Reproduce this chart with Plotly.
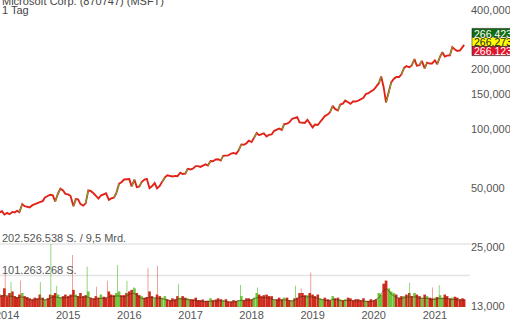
import pandas as pd
import numpy as np
import plotly.graph_objects as go

# ---------------- data ----------------
dates = list(pd.date_range("2013-11-15", "2021-06-15", freq="SMS")) + [pd.Timestamp("2021-06-25")]

price = [
    37.6, 38.1, 36.7,
    37.4, 36.8, 37.8, 37.6, 38.3, 37.7, 41.4, 40.4, 40.0, 39.8, 40.9, 41.2,
    41.9, 42.4, 42.9, 44.8, 45.4, 46.2, 45.9, 42.7, 46.9, 49.6, 48.6, 46.7,
    46.4, 45.5, 40.4, 43.9, 43.8, 41.4, 40.7, 41.8, 48.6, 48.3, 47.0, 45.5,
    44.2, 45.8, 46.7, 47.0, 43.5, 44.3, 44.6, 47.0, 52.6, 53.5, 55.2, 55.2,
    55.5, 50.9, 55.1, 50.5, 50.9, 53.6, 55.2, 55.6, 49.9, 51.0, 53.0, 49.8,
    51.2, 53.7, 56.6, 58.0, 57.5, 57.2, 57.6, 57.4, 59.8, 58.9, 59.2, 62.6,
    62.1, 62.7, 64.6, 64.6, 64.0, 64.8, 65.9, 65.0, 68.5, 68.4, 69.8, 70.0,
    68.9, 72.8, 72.7, 73.2, 74.8, 75.3, 74.5, 77.5, 83.2, 82.9, 84.2, 86.9,
    85.5, 89.6, 95.0, 92.7, 93.8, 94.6, 91.3, 93.1, 93.5, 97.3, 98.8, 100.1,
    98.6, 105.4, 106.1, 107.7, 112.3, 113.4, 114.4, 107.6, 107.0, 106.9, 110.9, 106.0,
    101.6, 105.0, 104.4, 108.2, 112.0, 115.9, 118.0, 121.1, 130.6, 126.0, 123.7, 132.5,
    134.0, 138.9, 136.3, 133.7, 137.9, 137.3, 139.0, 141.6, 143.4, 149.9, 151.4, 154.5,
    157.7, 163.2, 170.2, 184.0, 162.0, 136.0, 152.1, 171.9, 179.2, 183.2, 183.0, 188.9,
    203.5, 208.0, 205.0, 208.9, 225.5, 208.8, 210.3, 220.9, 202.5, 216.4, 214.1, 214.1,
    222.4, 212.7, 232.0, 244.2, 232.4, 235.0, 235.8, 259.5, 252.2, 248.2, 249.7, 257.4,
    266.3,
]

volume_m = [
    40, 38, 60,
    35, 45, 50, 35, 32, 40, 45, 35, 32, 28, 25, 30,
    28, 40, 30, 25, 28, 40, 38, 45, 40, 32, 35, 40,
    35, 40, 55, 40, 35, 45, 35, 38, 50, 30, 28, 35,
    30, 40, 33, 30, 50, 40, 38, 45, 50, 38, 38, 45,
    50, 55, 60, 45, 38, 35, 30, 32, 50, 35, 30, 40,
    35, 30, 35, 25, 22, 28, 25, 35, 30, 35, 30, 28,
    25, 25, 30, 22, 22, 24, 20, 20, 28, 22, 24, 28,
    25, 22, 25, 18, 18, 22, 20, 22, 35, 22, 28, 28,
    25, 30, 45, 40, 35, 38, 40, 35, 35, 25, 25, 30,
    25, 30, 30, 22, 22, 28, 30, 45, 45, 38, 38, 45,
    40, 35, 40, 28, 25, 30, 25, 22, 35, 28, 30, 25,
    22, 25, 30, 28, 22, 25, 25, 22, 28, 20, 20, 25,
    22, 25, 45, 40, 75, 85, 60, 50, 45, 40, 30, 35,
    35, 40, 45, 35, 45, 40, 35, 30, 40, 35, 30, 28,
    30, 32, 38, 30, 40, 35, 28, 30, 33, 30, 25, 28,
    25,
]

spike_dates = ["2013-12-20", "2014-01-24", "2014-03-21", "2014-07-18", "2014-09-19",
               "2014-10-24", "2015-01-27", "2015-04-24", "2015-06-19", "2015-08-24",
               "2015-10-23", "2015-12-18", "2016-01-29", "2016-04-22", "2016-06-17",
               "2016-10-21", "2017-10-27", "2018-02-06", "2018-09-21", "2018-10-25",
               "2018-12-21", "2020-03-20", "2020-08-03", "2020-12-18", "2021-01-27"]
spike_vol_m = [109, 80, 85, 80, 202.526538, 68, 167, 130, 65, 84,
               135, 84, 64, 126, 133, 75, 71, 63, 68, 60,
               111, 82, 78, 63, 70]
spike_up = [0, 1, 0, 1, 1, 1, 0, 1, 0, 0,
            1, 1, 1, 0, 0, 1, 1, 1, 1, 0,
            0, 0, 1, 0, 1]

tick_vals = [400, 200, 150, 100, 50, 25, 12.5]
tick_text = ["400,000", "200,000", "150,000", "100,000", "50,000", "25,000", "13,000"]
quote_vals = ["266,423", "266,273", "266,123"]

assert len(dates) == len(price) == len(volume_m)

# ---------------- geometry ----------------
W, H = 510, 320
PW, PH = 470, 307          # plot area size (px)
BASE = 307                 # volume baseline pixel
RED = "#e2231a"
GREEN = "#55c02b"

def py(p):   # pixel y (from top) -> paper y
    return (PH - p) / PH

def px(p):   # pixel x -> paper x
    return p / PW

lg2 = np.log10(2)
ylo = 2 - (PH - 128.7) / 59.3 * lg2
yhi = 2 + 128.7 / 59.3 * lg2
vmax = max(spike_vol_m) * 1e6
per_px = vmax / (BASE - 244.0)
v_lo = -(PH - BASE) * per_px
v_hi = BASE * per_px

fig = go.Figure()

vol = np.array(volume_m) * 1e6
pr = np.array(price)
chg = np.r_[0, np.diff(pr) / pr[:-1]]
bar_col = [("rgba(95,190,40,0.9)" if c > 0.035 else "rgba(200,32,16,0.95)") for c in chg]
fig.add_trace(go.Bar(x=dates, y=vol, yaxis="y2", marker=dict(color=bar_col, line=dict(width=0)),
                     width=15.5 * 86400000, hoverinfo="skip"))
sp_col = [("rgba(85,192,43,0.75)" if u else "rgba(226,50,40,0.55)") for u in spike_up]
fig.add_trace(go.Bar(x=pd.to_datetime(spike_dates), y=np.array(spike_vol_m) * 1e6, yaxis="y2",
                     marker=dict(color=sp_col, line=dict(width=0)), width=5 * 86400000,
                     hoverinfo="skip"))
ma = pd.Series(vol).rolling(3, center=True, min_periods=1).mean() * 0.8
fig.add_trace(go.Scatter(x=dates, y=ma, yaxis="y2", mode="lines",
                         line=dict(color="rgba(70,45,10,0.55)", width=1), hoverinfo="skip"))

fig.add_trace(go.Scatter(x=dates, y=pr, mode="lines", line=dict(color=RED, width=1.9),
                         hoverinfo="skip"))
gx, gy = [], []
for i in range(1, len(pr)):
    if chg[i] > 0.05:
        gx += [dates[i - 1], dates[i], None]
        gy += [pr[i - 1], pr[i], None]
fig.add_trace(go.Scatter(x=gx, y=gy, mode="lines", line=dict(color=GREEN, width=1),
                         hoverinfo="skip"))

shapes = []
for v in [vmax / 2, vmax]:
    shapes.append(dict(type="line", xref="paper", yref="y2", x0=0, x1=1, y0=v, y1=v,
                       line=dict(color="#e4e4e4", width=1.5), layer="below"))
box_cols = ["#126b12", "#ffff00", "#e0152b"]
txt_cols = ["white", "#222222", "white"]
centers = [33, 42, 51]
ann = []
for c, bc, tc, t in zip(centers, box_cols, txt_cols, quote_vals):
    shapes.append(dict(type="rect", xref="paper", yref="paper", x0=px(472), x1=px(512),
                       y0=py(c + 4.6), y1=py(c - 4.6), fillcolor=bc,
                       line=dict(color="#222", width=0.6)))
    ann.append(dict(text=t, xref="paper", yref="paper", x=px(473), y=py(c), xanchor="left",
                    yanchor="middle", showarrow=False, height=9, borderpad=0,
                    font=dict(size=10.5, color=tc)))

ann.append(dict(text="Microsoft Corp. (870747) (MSFT)", xref="paper", yref="paper", x=px(0),
                y=py(0.5), xanchor="left", yanchor="middle", showarrow=False,
                font=dict(size=11, color="#444")))
ann.append(dict(text="1 Tag", xref="paper", yref="paper", x=px(0), y=py(10), xanchor="left",
                yanchor="middle", showarrow=False, font=dict(size=11, color="#444")))
ann.append(dict(text="202.526.538 S. / 9,5 Mrd.", xref="paper", yref="paper", x=px(0),
                y=py(238), xanchor="left", yanchor="middle", showarrow=False,
                font=dict(size=11, color="#555")))
ann.append(dict(text="101.263.268 S.", xref="paper", yref="paper", x=px(0),
                y=py(270), xanchor="left", yanchor="middle", showarrow=False,
                font=dict(size=11, color="#555")))

fig.update_layout(
    width=W, height=H, margin=dict(l=0, r=W - PW, t=0, b=H - PH, autoexpand=False),
    paper_bgcolor="white", plot_bgcolor="white", showlegend=False, barmode="overlay",
    font=dict(family="Arial, Liberation Sans, sans-serif", size=11, color="#555"),
    xaxis=dict(type="date", range=["2013-11-19", "2021-07-30"], tickformat="%Y",
               dtick="M12", tick0="2014-01-01", showgrid=False, zeroline=False,
               ticks="", showline=False, automargin=False, ticklabeloverflow="allow",
               tickfont=dict(size=11, color="#555")),
    yaxis=dict(type="log", range=[ylo, yhi], side="right", tickvals=tick_vals,
               ticktext=tick_text, showgrid=False, zeroline=False, ticks="",
               automargin=False, ticklabeloverflow="allow",
               tickfont=dict(size=11, color="#555")),
    yaxis2=dict(overlaying="y", range=[v_lo, v_hi], visible=False, automargin=False),
    shapes=shapes, annotations=ann,
)
fig.write_html("out.html")
